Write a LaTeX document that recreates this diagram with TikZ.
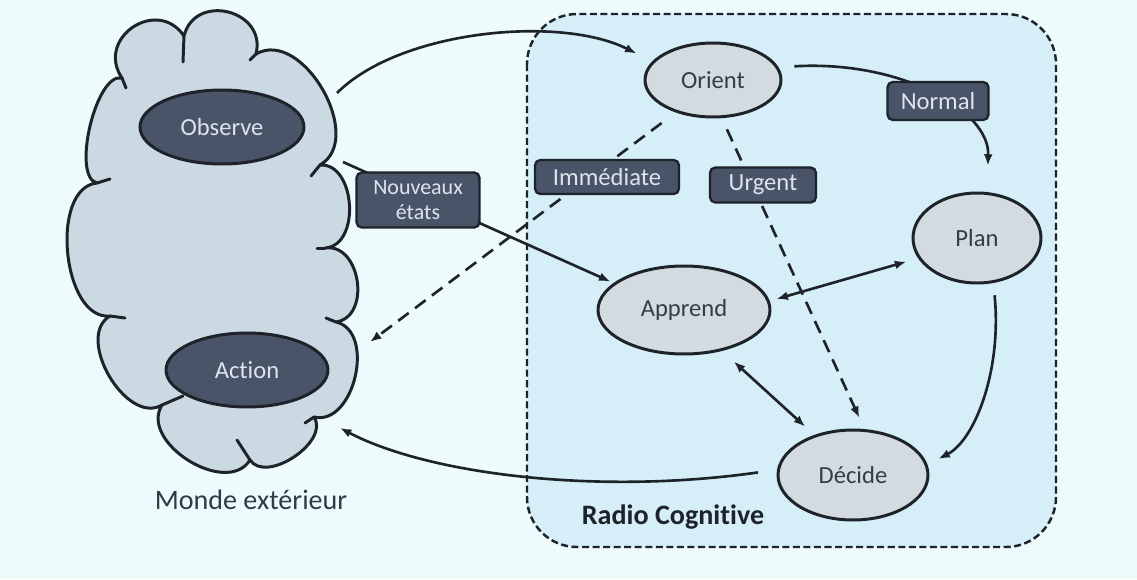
\documentclass[tikz,border=0pt]{standalone}
\usepackage{fontspec}
\setmainfont{Carlito}[Ligatures=NoCommon]
\usetikzlibrary{calc,shapes.geometric,arrows.meta}

\definecolor{pagebg}{HTML}{EEFBFC}
\definecolor{boxfill}{HTML}{D5EEF8}
\definecolor{cloudfill}{HTML}{CBD9E2}
\definecolor{ellfill}{HTML}{D3DBE0}
\definecolor{darkfill}{HTML}{4A5468}
\definecolor{darktext}{HTML}{DDE4EE}
\definecolor{nodetext}{HTML}{363C45}
\definecolor{inkcol}{HTML}{1E232A}
\definecolor{captioncol}{HTML}{2F3A48}

% one bulge of the cloud outline, from #1 to #2, bulging outwards by about #3 px
\newcommand\cloudbump[3]{.. controls ($(#1)!#3*0.02667cm!90:(#2)$) and ($(#2)!#3*0.02667cm!-90:(#1)$) .. (#2)}

\begin{document}
\begin{tikzpicture}[x=0.02cm,y=-0.02cm,
  >={Latex[length=6.5pt,width=5pt]},
  cloudline/.style={draw=inkcol, line width=1.7pt, fill=cloudfill, line join=round},
  notch/.style={draw=inkcol, line width=1.7pt, line cap=round},
  lightell/.style={ellipse, draw=inkcol, line width=1.7pt, fill=ellfill, inner sep=0pt,
    text=nodetext, font=\fontsize{14}{16}\selectfont},
  darkell/.style={ellipse, draw=inkcol, line width=1.7pt, fill=darkfill, inner sep=0pt,
    text=darktext, font=\fontsize{14}{16}\selectfont},
  tag/.style={rectangle, rounded corners=3pt, draw=inkcol, line width=1.3pt, fill=darkfill,
    inner sep=0pt, text=darktext, font=\fontsize{14}{16}\selectfont},
  conn/.style={draw=inkcol, line width=1.5pt},
  dashconn/.style={dash pattern=on 7.5pt off 4.5pt},
]
% page
\fill[pagebg] (0,0) rectangle (1137,579);
\useasboundingbox (0,0) rectangle (1137,579);

% cognitive radio frame
\draw[fill=boxfill, draw=inkcol, line width=1.4pt, dash pattern=on 4pt off 2pt,
      rounded corners=1cm] (527,14) rectangle (1056,547);
\node[font=\bfseries\fontsize{16}{18}\selectfont, text=inkcol] (rc) at (673,517) {Radio Cognitive};

% outside world cloud
\coordinate (k1) at (122,78);
\coordinate (k2) at (184,36);
\coordinate (k3) at (256,54);
\coordinate (k4) at (320,165);
\coordinate (k5) at (325,248);
\coordinate (k6) at (336,322);
\coordinate (k7) at (314,417);
\coordinate (k8) at (250,460);
\coordinate (k9) at (162,405);
\coordinate (k10) at (110,316);
\coordinate (k11) at (97,183);
\filldraw[cloudline] (k1) \cloudbump{k1}{k2}{36} \cloudbump{k2}{k3}{34}
  \cloudbump{k3}{k4}{40} \cloudbump{k4}{k5}{27} \cloudbump{k5}{k6}{27}
  \cloudbump{k6}{k7}{31} \cloudbump{k7}{k8}{22} \cloudbump{k8}{k9}{33}
  \cloudbump{k9}{k10}{31} \cloudbump{k10}{k11}{36} \cloudbump{k11}{k1}{20} -- cycle;
\draw[notch] (k1) -- (126,88);
\draw[notch] (k2) -- (183,62);
\draw[notch] (k3) -- (250,60);
\draw[notch] (k4) -- (311,176);
\draw[notch] (k5) -- (317,248);
\draw[notch] (k6) -- (326,318);
\draw[notch] (k7) -- (305,423);
\draw[notch] (k8) -- (237,440);
\draw[notch] (k9) -- (183,396);
\draw[notch] (k10) -- (125,318);
\draw[notch] (k11) -- (110,179);
\node[font=\fontsize{16}{18}\selectfont, text=captioncol] (monde) at (251,500) {Monde extérieur};

% nodes
\node[darkell, minimum width=3.28cm, minimum height=1.48cm] (observe) at (222,127) {Observe};
\node[darkell, minimum width=3.24cm, minimum height=1.48cm] (action) at (247,370) {Action};
\node[lightell, minimum width=2.72cm, minimum height=1.48cm] (orient) at (713,80) {Orient};
\node[lightell, minimum width=2.56cm, minimum height=1.80cm] (plan) at (977,238) {Plan};
\node[lightell, minimum width=3.44cm, minimum height=1.76cm] (apprend) at (684,310) {Apprend};
\node[lightell, minimum width=3.00cm, minimum height=1.80cm] (decide) at (853,475) {Décide};

% free ends on the cloud
\coordinate (obsout) at (337,93);
\coordinate (nvout) at (343,162);
\coordinate (actcorner) at (370,342);
\coordinate (actin) at (340,428);

% connectors
\draw[conn, ->, shorten >=10pt] (obsout) .. controls (400,30) and (560,15) .. (orient.163);
\draw[conn, ->, shorten <=9pt, shorten >=15pt] (orient.11) .. controls (900,60) and (990,110) .. (plan.78);
\draw[conn, ->, shorten >=2pt] (nvout) -- (apprend.159);
\draw[conn, dashconn, ->, shorten <=10pt] (orient.221) -- (actcorner);
\draw[conn, dashconn, ->, shorten <=7pt, shorten >=7pt] (orient.283) -- (decide.76);
\draw[conn, <->, shorten <=4pt, shorten >=7pt] (apprend.6) -- (plan.199);
\draw[conn, <->, shorten <=9pt, shorten >=7pt] (apprend.313) -- (decide.134);
\draw[conn, ->, shorten <=7pt, shorten >=7pt] (plan.290) .. controls (1002,370) and (975,440) .. (decide.8);
\draw[conn, ->, shorten <=11pt] (decide.176) .. controls (600,495) and (430,475) .. (actin);

% path labels
\node[tag, minimum width=2.02cm, minimum height=0.76cm] (normal) at (938,101) {Normal};
\node[tag, minimum width=2.88cm, minimum height=0.68cm] (immediate) at (607,177) {Immédiate};
\node[tag, minimum width=2.12cm, minimum height=0.70cm] (urgent) at (763,185) {Urgent};
\node[tag, minimum width=2.46cm, minimum height=1.10cm, align=center,
      font=\fontsize{12.5}{14}\selectfont] (nouveaux) at (418,200) {Nouveaux\\états};
\end{tikzpicture}
\end{document}
